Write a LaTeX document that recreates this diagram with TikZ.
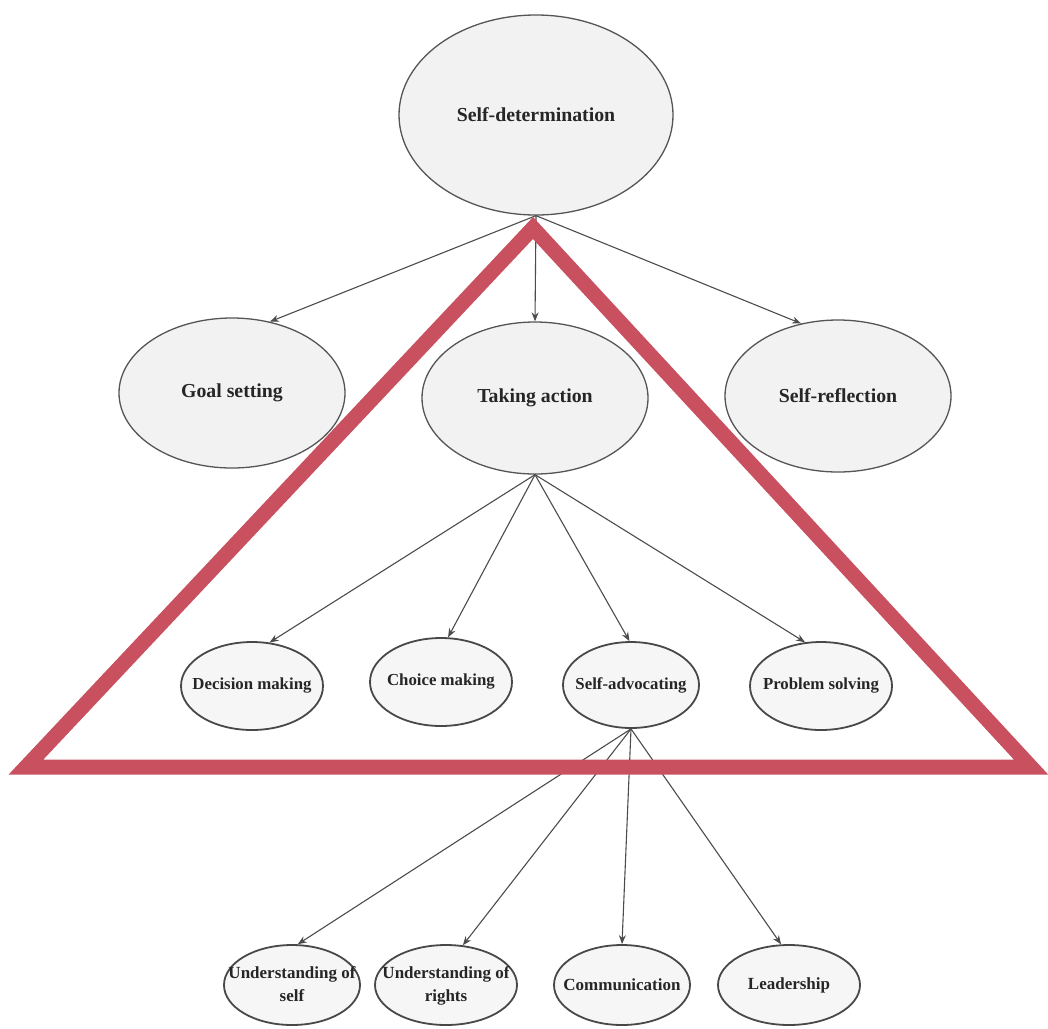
\documentclass[tikz,border=0pt]{standalone}
\usepackage{fontspec}
\setmainfont{Liberation Serif}
\usetikzlibrary{shapes.geometric,arrows.meta}
\definecolor{tri}{HTML}{C9505F}
\definecolor{efill}{HTML}{F2F2F2}
\definecolor{edraw}{HTML}{555555}
\definecolor{txt}{HTML}{262626}
\begin{document}
\begin{tikzpicture}[x=1pt,y=-1pt,
  big/.style={ellipse,draw=edraw,fill=efill,line width=1.3pt,inner sep=0pt,text=txt,
    font=\fontsize{19.8}{24}\selectfont\bfseries},
  mid/.style={ellipse,draw=edraw!85!black,fill=efill!70!white,line width=1.8pt,inner sep=0pt,text=txt,
    minimum width=142pt,minimum height=88pt,font=\fontsize{16.8}{20}\selectfont\bfseries},
  low/.style={ellipse,draw=edraw!85!black,fill=efill!70!white,line width=1.8pt,inner sep=0pt,text=txt,
    minimum width=140pt,minimum height=80pt,font=\fontsize{17}{25}\selectfont\bfseries},
  conn/.style={draw=black!70,line width=1.1pt,-{Stealth[length=9pt,width=7pt]}},
  redtri/.style={draw=tri,line width=15pt,line join=miter}]

\useasboundingbox (0,0) rectangle (1048,1028);

% top level
\node[big,minimum width=274pt,minimum height=200pt] (sd) at (536,115) {\makebox[0pt]{Self-determination}};

% second level
\node[big,minimum width=226pt,minimum height=150pt] (gs) at (232,393) {\makebox[0pt]{Goal setting}};
\node[big,minimum width=226pt,minimum height=152pt] (ta) at (535,398) {\makebox[0pt]{Taking action}};
\node[big,minimum width=226pt,minimum height=152pt] (sr) at (838,396) {\makebox[0pt]{Self-reflection}};

% third level
\node[mid] (dm) at (252,686) {\makebox[0pt]{Decision making}};
\node[mid] (cm) at (441,682) {\makebox[0pt]{Choice making}};
\node[mid,minimum width=136pt,minimum height=86pt] (sa) at (631,685) {\makebox[0pt]{Self-advocating}};
\node[mid] (ps) at (821,686) {\makebox[0pt]{Problem solving}};

% fourth level
\node[low,minimum width=136pt] (us) at (292,985) {\makebox[0pt]{\begin{tabular}{@{}c@{}}Understanding of\\[-2pt] self\end{tabular}}};
\node[low,minimum width=142pt] (ur) at (446,985) {\makebox[0pt]{\begin{tabular}{@{}c@{}}Understanding of\\[-2pt] rights\end{tabular}}};
\node[low,minimum width=136pt] (co) at (622,985) {\makebox[0pt]{Communication}};
\node[low,minimum width=142pt] (le) at (789,985) {\makebox[0pt]{Leadership}};

% connectors
\draw[conn] (sd.south) -- (gs.62);
\draw[conn] (sd.south) -- (ta.north);
\draw[conn] (sd.south) -- (sr.117);

\draw[conn] (ta.south) -- (dm.68);
\draw[conn] (ta.south) -- (cm.81);
\draw[conn] (ta.south) -- (sa.92);
\draw[conn] (ta.south) -- (ps.110);

\draw[conn] (sa.south) -- (us.82);
\draw[conn] (sa.south) -- (ur.67);
\draw[conn] (sa.south) -- (co.north);
\draw[conn] (sa.south) -- (le.101);

% red triangle overlay
\draw[redtri] (26,767) -- (533,228) -- (1031,767) -- cycle;
\end{tikzpicture}
\end{document}
